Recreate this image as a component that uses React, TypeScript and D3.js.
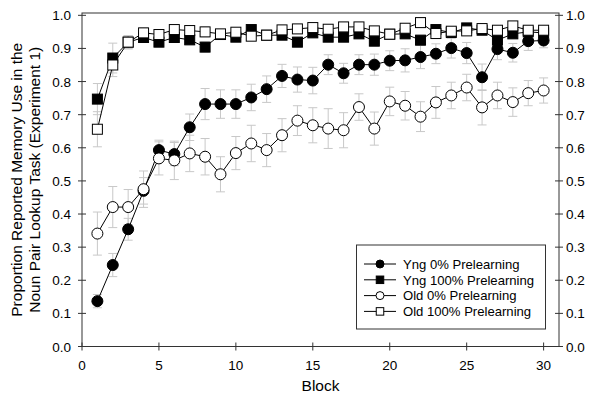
import * as d3 from "d3";
import React from "react";

const blocks = [1, 2, 3, 4, 5, 6, 7, 8, 9, 10, 11, 12, 13, 14, 15, 16, 17, 18, 19, 20, 21, 22, 23, 24, 25, 26, 27, 28, 29, 30];

const yng0 = [0.137, 0.246, 0.354, 0.470, 0.593, 0.581, 0.662, 0.732, 0.732, 0.732, 0.752, 0.777, 0.817, 0.806, 0.803, 0.851, 0.825, 0.851, 0.851, 0.863, 0.864, 0.874, 0.884, 0.901, 0.886, 0.813, 0.898, 0.887, 0.922, 0.924];
const yng0Err = [0.02, 0.035, 0.033, 0.04, 0.03, 0.035, 0.04, 0.047, 0.043, 0.043, 0.04, 0.04, 0.035, 0.038, 0.04, 0.03, 0.03, 0.03, 0.032, 0.03, 0.035, 0.035, 0.03, 0.03, 0.032, 0.04, 0.032, 0.028, 0.028, 0.022];

const yng100 = [0.747, 0.871, 0.919, 0.933, 0.919, 0.933, 0.926, 0.904, 0.942, 0.934, 0.957, 0.940, 0.940, 0.919, 0.947, 0.934, 0.934, 0.944, 0.922, 0.943, 0.944, 0.925, 0.957, 0.948, 0.962, 0.955, 0.925, 0.944, 0.950, 0.947];
const yng100Err = [0.047, 0.045, 0.02, 0.015, 0.015, 0.015, 0.015, 0.015, 0.012, 0.012, 0.012, 0.012, 0.012, 0.015, 0.012, 0.012, 0.012, 0.012, 0.015, 0.012, 0.012, 0.015, 0.012, 0.012, 0.012, 0.012, 0.015, 0.012, 0.012, 0.012];

const old0 = [0.341, 0.421, 0.421, 0.475, 0.568, 0.562, 0.583, 0.573, 0.520, 0.584, 0.613, 0.593, 0.638, 0.682, 0.668, 0.658, 0.653, 0.723, 0.658, 0.740, 0.727, 0.694, 0.737, 0.758, 0.782, 0.722, 0.758, 0.738, 0.765, 0.773];
const old0Err = [0.065, 0.062, 0.053, 0.055, 0.05, 0.058, 0.055, 0.055, 0.053, 0.05, 0.055, 0.05, 0.05, 0.045, 0.053, 0.06, 0.053, 0.04, 0.05, 0.043, 0.043, 0.045, 0.048, 0.04, 0.04, 0.053, 0.04, 0.043, 0.038, 0.038];

const old100 = [0.656, 0.850, 0.919, 0.947, 0.942, 0.957, 0.954, 0.950, 0.944, 0.949, 0.937, 0.940, 0.956, 0.959, 0.963, 0.958, 0.965, 0.965, 0.953, 0.943, 0.961, 0.978, 0.945, 0.952, 0.953, 0.960, 0.955, 0.968, 0.955, 0.955];
const old100Err = [0.053, 0.035, 0.02, 0.015, 0.015, 0.015, 0.015, 0.015, 0.012, 0.012, 0.012, 0.012, 0.012, 0.012, 0.012, 0.012, 0.012, 0.012, 0.012, 0.012, 0.012, 0.015, 0.012, 0.012, 0.012, 0.012, 0.012, 0.012, 0.012, 0.012];

const xTicks = [0, 5, 10, 15, 20, 25, 30];
const yTicks = [0, 0.1, 0.2, 0.3, 0.4, 0.5, 0.6, 0.7, 0.8, 0.9, 1.0];

const seriesNames = ["Yng 0% Prelearning", "Yng 100% Prelearning", "Old 0% Prelearning", "Old 100% Prelearning"];

const width = 600;
const height = 406;
const margin = { top: 13, right: 41, bottom: 59.5, left: 82 };
const font = "Arial, 'Liberation Sans', sans-serif";
const axisColor = "#333";
const errColor = "#c8c8c8";

const x = d3.scaleLinear().domain([0, 31]).range([margin.left, width - margin.right]);
const y = d3.scaleLinear().domain([0, 1.007]).range([height - margin.bottom, margin.top]);

const series = [
  { name: seriesNames[0], values: yng0, errs: yng0Err, shape: "circle", fill: "#000" },
  { name: seriesNames[1], values: yng100, errs: yng100Err, shape: "square", fill: "#000" },
  { name: seriesNames[2], values: old0, errs: old0Err, shape: "circle", fill: "#fff" },
  { name: seriesNames[3], values: old100, errs: old100Err, shape: "square", fill: "#fff" },
];

const Marker = ({ cx, cy, shape, fill, size }) =>
  shape === "circle" ? (
    <circle cx={cx} cy={cy} r={size / 2} fill={fill} stroke="#000" strokeWidth={1} />
  ) : (
    <rect x={cx - size / 2} y={cy - size / 2} width={size} height={size} fill={fill} stroke="#000" strokeWidth={1} />
  );

export default function App() {
  const line = d3.line<number>().x((d, i) => x(blocks[i])).y(d => y(d));
  const x0 = margin.left;
  const x1 = width - margin.right;
  const y0 = height - margin.bottom;
  const y1 = margin.top;
  const legend = { x: 356.5, y: 245, w: 189, h: 84 };

  return (
    <div>
      <style>{"body{margin:0}"}</style>
      <svg width={width} height={height} style={{ display: "block", fontFamily: font }}>
        <rect width={width} height={height} fill="#fff" />

        {/* error bars */}
        {series.map((s, si) => (
          <g key={"err" + si} stroke={errColor} strokeWidth={1}>
            {s.values.map((v, i) => {
              const cx = x(blocks[i]);
              const top = y(v + s.errs[i]);
              const bot = y(v - s.errs[i]);
              return (
                <g key={i}>
                  <line x1={cx} x2={cx} y1={top} y2={bot} />
                  <line x1={cx - 4.5} x2={cx + 4.5} y1={top} y2={top} />
                  <line x1={cx - 4.5} x2={cx + 4.5} y1={bot} y2={bot} />
                </g>
              );
            })}
          </g>
        ))}

        {/* lines and markers */}
        {series.map((s, si) => (
          <g key={"s" + si}>
            <path d={line(s.values)} fill="none" stroke="#000" strokeWidth={1} />
            {s.values.map((v, i) => (
              <Marker key={i} cx={x(blocks[i])} cy={y(v)} shape={s.shape} fill={s.fill} size={s.shape === "circle" ? 11 : 10} />
            ))}
          </g>
        ))}

        {/* frame */}
        <rect x={x0} y={y1} width={x1 - x0} height={y0 - y1} fill="none" stroke={axisColor} strokeWidth={1} />

        {/* x axis */}
        {xTicks.map(t => (
          <g key={"xt" + t}>
            <line x1={x(t)} x2={x(t)} y1={y0 - 4} y2={y0 + 4} stroke={axisColor} />
            <text x={x(t)} y={y0 + 23} textAnchor="middle" fontSize={13.5} fill="#000">{t}</text>
          </g>
        ))}
        <text x={(x0 + x1) / 2} y={391} textAnchor="middle" fontSize={15.5} fill="#000">Block</text>

        {/* y axes */}
        {yTicks.map(t => (
          <g key={"yt" + t}>
            <line x1={x0 - 4} x2={x0 + 4} y1={y(t)} y2={y(t)} stroke={axisColor} />
            <line x1={x1 - 4} x2={x1 + 4} y1={y(t)} y2={y(t)} stroke={axisColor} />
            <text x={x0 - 11} y={y(t) + 5} textAnchor="end" fontSize={13.5} fill="#000">{t.toFixed(1)}</text>
            <text x={x1 + 7} y={y(t) + 5} textAnchor="start" fontSize={13.5} fill="#000">{t.toFixed(1)}</text>
          </g>
        ))}
        <g transform={`translate(0, ${(y0 + y1) / 2}) rotate(-90)`}>
          <text x={0} y={22} textAnchor="middle" fontSize={15.5} fill="#000">Proportion Reported Memory Use in the</text>
          <text x={0} y={40} textAnchor="middle" fontSize={15.5} fill="#000">Noun Pair Lookup Task (Experiment 1)</text>
        </g>

        {/* legend */}
        <rect x={legend.x} y={legend.y} width={legend.w} height={legend.h} fill="#fff" stroke={axisColor} strokeWidth={1} />
        {series.map((s, i) => {
          const ly = legend.y + 19 + i * 15.8;
          return (
            <g key={"lg" + i}>
              <line x1={364} x2={396} y1={ly} y2={ly} stroke="#000" />
              <Marker cx={380} cy={ly} shape={s.shape} fill={s.fill} size={s.shape === "circle" ? 8 : 7.5} />
              <text x={403} y={ly + 4.7} fontSize={13.1} fill="#000">{s.name}</text>
            </g>
          );
        })}
      </svg>
    </div>
  );
}
